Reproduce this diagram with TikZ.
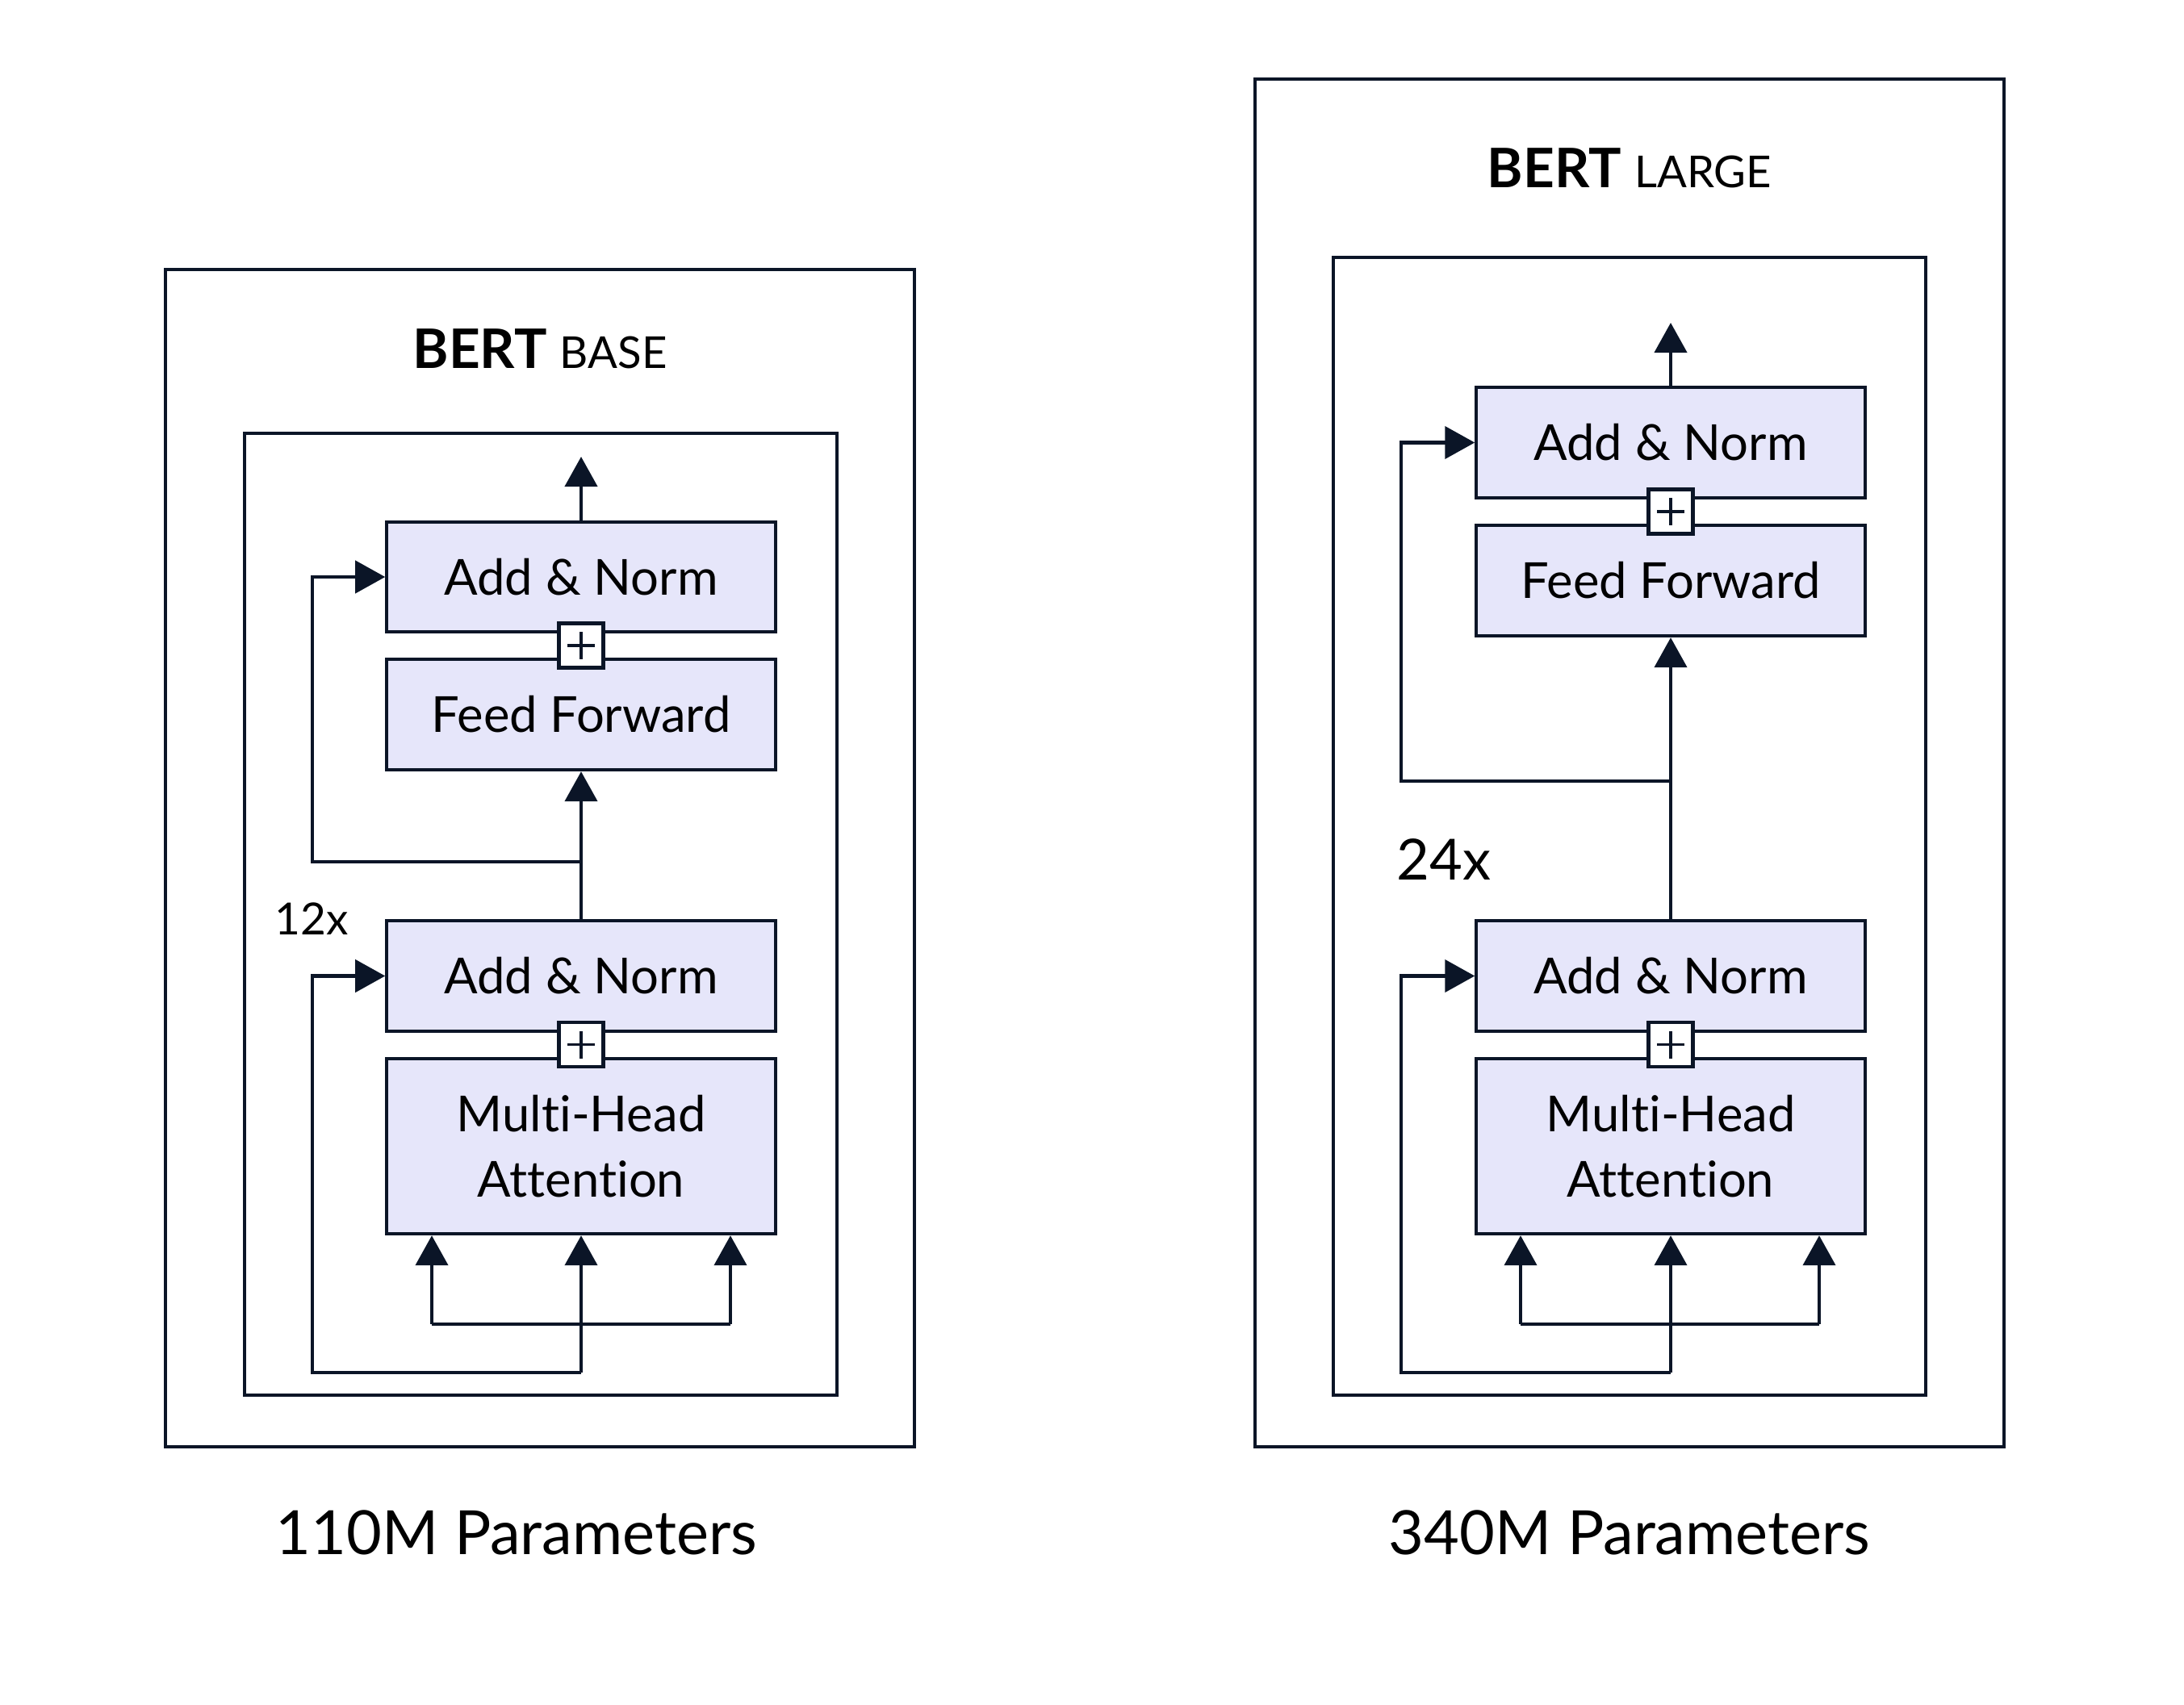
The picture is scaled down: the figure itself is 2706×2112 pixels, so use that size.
\documentclass[tikz,border=0pt]{standalone}
\usepackage{fontspec}
\setmainfont{Lato}[Ligatures={NoCommon}]
\usetikzlibrary{arrows.meta,calc}
\definecolor{ink}{HTML}{0B1527}
\definecolor{lav}{HTML}{E6E6FA}
\newcommand\plusmark[1]{\draw[ink, line width=1pt] ($(#1.center)+(-17,0)$) -- ($(#1.center)+(17,0)$) ($(#1.center)+(0,-17)$) -- ($(#1.center)+(0,17)$);}
\begin{document}
\begin{tikzpicture}[x=0.01cm,y=-0.01cm,
  frame/.style={draw=ink, line width=1.2pt},
  blk/.style={draw=ink, fill=lav, line width=1.2pt, minimum width=4.81cm, inner sep=0pt, align=center,
    font=\fontsize{17.5}{22.8}\selectfont, text=black},
  plusbox/.style={draw=ink, fill=white, line width=1.2pt, minimum size=0.55cm, inner sep=0pt},
  arr/.style={draw=ink, line width=1.2pt, -{Triangle[width=0.4cm,length=0.37cm]}},
  ln/.style={draw=ink, line width=1.2pt},
  titletext/.style={anchor=base, inner sep=0pt, text=black},
  captext/.style={anchor=base, inner sep=0pt, text=black, font=\fontsize{21.5}{26}\selectfont},
  reptext/.style={anchor=base west, inner sep=0pt, text=black}]
\useasboundingbox (0,0) rectangle (2706,2112);

% ================= BERT BASE =================
\draw[frame] (205,334) rectangle (1133,1793);
\draw[frame] (303,537) rectangle (1037,1729);
\node[titletext] (tb) at (669,456) {\fontsize{19.2}{24}\selectfont\bfseries BERT\ \fontsize{15.5}{20}\mdseries\selectfont BASE};

\node[blk, minimum height=1.36cm] (ban2) at (720,715) {Add \& Norm};
\node[blk, minimum height=1.37cm] (bff) at (720,885.5) {Feed Forward};
\node[plusbox] (bp2) at (720,800) {};
\plusmark{bp2}
\node[blk, minimum height=1.37cm] (ban1) at (720,1209.5) {Add \& Norm};
\node[blk, minimum height=2.17cm] (bmha) at (720,1420.5) {Multi-Head\\Attention};
\node[plusbox] (bp1) at (720,1294.5) {};
\plusmark{bp1}

\coordinate (bout) at (720,566);
\draw[arr] (ban2.north) -- (bout);
\draw[arr] (ban1.north) -- (bff.south);
\coordinate (bs2) at (720,1068);
\draw[arr] (bs2) -- ++(-333,0) |- (ban2.west);
\coordinate (bin) at (720,1701);
\draw[arr] (bin) -- ++(-333,0) |- (ban1.west);
\draw[arr] (bin) -- (bmha.south);
\coordinate (bhl) at (535,1641);
\coordinate (bhr) at (905,1641);
\draw[ln] (bhl) -- (bhr);
\draw[arr] (bhl) -- (bhl |- bmha.south);
\draw[arr] (bhr) -- (bhr |- bmha.south);
\node[reptext, font=\fontsize{15.6}{20}\selectfont] (b12) at (340,1158) {12x};
\node[captext] (bcap) at (640,1926) {110M Parameters};

% ================= BERT LARGE =================
\draw[frame] (1555,98) rectangle (2483,1793);
\draw[frame] (1652,319) rectangle (2386,1729);
\node[titletext] (tl) at (2019,232) {\fontsize{19.2}{24}\selectfont\bfseries BERT\ \fontsize{15.5}{20}\mdseries\selectfont LARGE};

\node[blk, minimum height=1.37cm] (lan2) at (2070,548.5) {Add \& Norm};
\node[blk, minimum height=1.37cm] (lff) at (2070,719.5) {Feed Forward};
\node[plusbox] (lp2) at (2070,634) {};
\plusmark{lp2}
\node[blk, minimum height=1.37cm] (lan1) at (2070,1209.5) {Add \& Norm};
\node[blk, minimum height=2.17cm] (lmha) at (2070,1420.5) {Multi-Head\\Attention};
\node[plusbox] (lp1) at (2070,1294.5) {};
\plusmark{lp1}

\coordinate (lout) at (2070,400);
\draw[arr] (lan2.north) -- (lout);
\draw[arr] (lan1.north) -- (lff.south);
\coordinate (ls2) at (2070,968);
\draw[arr] (ls2) -- ++(-334,0) |- (lan2.west);
\coordinate (lin) at (2070,1701);
\draw[arr] (lin) -- ++(-334,0) |- (lan1.west);
\draw[arr] (lin) -- (lmha.south);
\coordinate (lhl) at (1884,1641);
\coordinate (lhr) at (2254,1641);
\draw[ln] (lhl) -- (lhr);
\draw[arr] (lhl) -- (lhl |- lmha.south);
\draw[arr] (lhr) -- (lhr |- lmha.south);
\node[reptext, font=\fontsize{20}{24}\selectfont] (l24) at (1730,1090) {24x};
\node[captext] (lcap) at (2019,1926) {340M Parameters};
\end{tikzpicture}
\end{document}
